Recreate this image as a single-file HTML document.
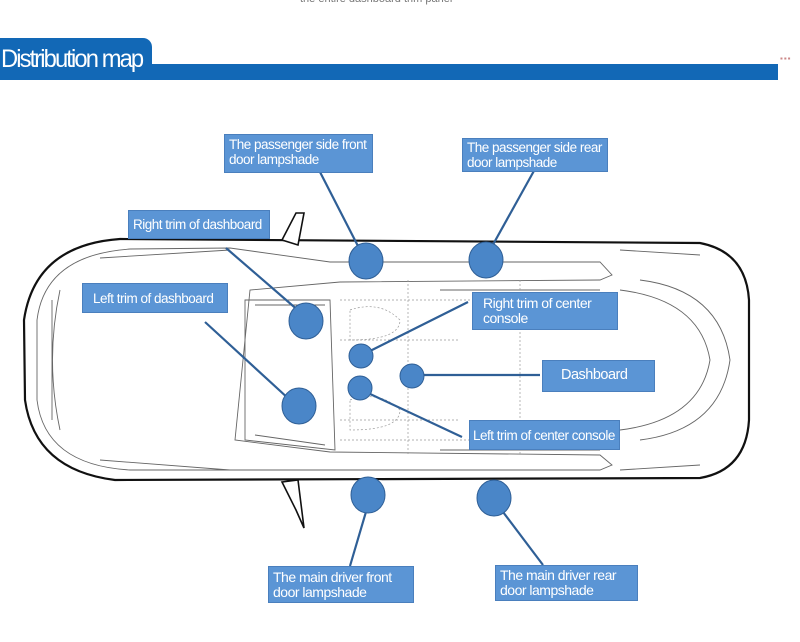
<!DOCTYPE html>
<html><head><meta charset="utf-8"><style>
html,body{margin:0;padding:0;background:#fff;width:800px;height:642px;overflow:hidden;font-family:"Liberation Sans",sans-serif}
.lab{position:absolute;background:#5b95d5;border:1px solid #4a7fbd;color:#fff;font-size:13.5px;line-height:15px;box-sizing:border-box;padding:3px 4px;letter-spacing:-0.5px}
</style></head><body>
<div style="position:absolute;left:300px;top:-7px;font-size:11px;color:#777">the entire dashboard trim panel</div>
<div style="position:absolute;left:0;top:64px;width:778px;height:16px;background:#1268b6"></div>
<div style="position:absolute;left:0;top:38px;width:152px;height:42px;background:#1268b6;border-radius:0 9px 0 0"></div>
<div style="position:absolute;left:1px;top:44px;color:#fff;font-size:25px;letter-spacing:-2px;line-height:30px;transform:scaleX(0.95);transform-origin:left">Distribution map</div>
<div style="position:absolute;left:780px;top:54px;font-size:8px;color:#c88;letter-spacing:1px">▪▪▪</div>
<svg width="800" height="642" style="position:absolute;left:0;top:0">
<g fill="none" stroke="#111" stroke-width="2.2">
<path d="M120 239 L700 243 Q746 252 749 300 L749 420 Q746 470 700 478 L115 480 Q35 470 25 400 L24 320 Q35 245 120 239Z"/>
</g>
<g fill="none" stroke="#666" stroke-width="0.9">
<path d="M130 249 L230 248 L330 262 L600 262 L612 275 L600 280 L340 282 L250 290 L235 440 L330 452 L600 455 L612 465 L600 470 L330 470 L230 470 L130 470 Q45 465 37 400 L37 320 Q45 255 130 249Z"/>
<path d="M245 300 L330 300 L335 450 L245 440Z"/>
<path d="M255 305 L325 305 M255 435 L325 445"/>
<path d="M100 258 L230 250 M100 460 L230 470"/>
<path d="M60 290 Q45 360 60 430 M52 300 L52 420"/>
<path d="M640 280 Q720 290 730 360 Q720 430 640 440"/>
<path d="M620 290 Q700 300 710 360 Q700 420 620 430"/>
<path d="M440 290 L600 290 M440 450 L600 450"/>
<path d="M620 250 L700 255 M620 470 L700 465"/>
</g>
<g fill="#fff" stroke="#111" stroke-width="1.6">
<path d="M282 240 L296 213 L304 213 L298 245Z"/>
<path d="M282 482 L296 510 L304 528 L298 480Z"/>
</g>
<g fill="none" stroke="#999" stroke-width="0.7" stroke-dasharray="2 2">
<path d="M340 300 L460 300 M340 340 L460 340 M340 420 L460 420 M340 440 L460 440 M408 280 L408 455 M520 280 L520 455 M440 300 L600 300 M440 440 L600 440"/>
<path d="M350 310 Q380 300 400 320 Q400 340 350 340Z M350 400 Q380 390 400 410 Q400 430 350 430Z"/>
</g>
<g stroke="#2f5f96" stroke-width="2.2">
<line x1="320" y1="172" x2="360" y2="250"/>
<line x1="540" y1="160" x2="490" y2="250"/>
<line x1="226" y1="248" x2="300" y2="312"/>
<line x1="205" y1="322" x2="290" y2="400"/>
<line x1="468" y1="302" x2="368" y2="352"/>
<line x1="420" y1="375" x2="540" y2="375"/>
<line x1="368" y1="393" x2="462" y2="437"/>
<line x1="368" y1="505" x2="350" y2="566"/>
<line x1="500" y1="508" x2="543" y2="565"/>
</g>
<g fill="#4a86c8" stroke="#2f5f96" stroke-width="1">
<ellipse cx="366" cy="261" rx="17" ry="18"/>
<ellipse cx="486" cy="260" rx="17" ry="18"/>
<ellipse cx="306" cy="321" rx="17" ry="18"/>
<circle cx="361" cy="356" r="12"/>
<circle cx="412" cy="376" r="12"/>
<circle cx="360" cy="388" r="12"/>
<ellipse cx="299" cy="406" rx="17" ry="18"/>
<ellipse cx="368" cy="495" rx="17" ry="18"/>
<ellipse cx="494" cy="498" rx="17" ry="18"/>
</g>
</svg>
<div class="lab" style="left:224px;top:134px;width:149px;height:39px;padding-top:2px">The passenger side front door lampshade</div>
<div class="lab" style="left:462px;top:138px;width:146px;height:34px;padding-top:1px">The passenger side rear door lampshade</div>
<div class="lab" style="left:128px;top:210px;width:142px;height:29px;padding-top:6px">Right trim of dashboard</div>
<div class="lab" style="left:82px;top:283px;width:146px;height:30px;padding:7px 10px">Left trim of dashboard</div>
<div class="lab" style="left:472px;top:292px;width:146px;height:38px;padding:3px 10px;font-size:14px">Right trim of center console</div>
<div class="lab" style="left:542px;top:360px;width:113px;height:32px;padding:7px 18px;font-size:14.5px">Dashboard</div>
<div class="lab" style="left:469px;top:420px;width:151px;height:30px;padding:7px 3px">Left trim of center console</div>
<div class="lab" style="left:268px;top:566px;width:146px;height:37px;padding:3px 4px;font-size:14px">The main driver front door lampshade</div>
<div class="lab" style="left:495px;top:565px;width:143px;height:36px;padding:2px 4px;font-size:14px">The main driver rear door lampshade</div>
</body></html>
